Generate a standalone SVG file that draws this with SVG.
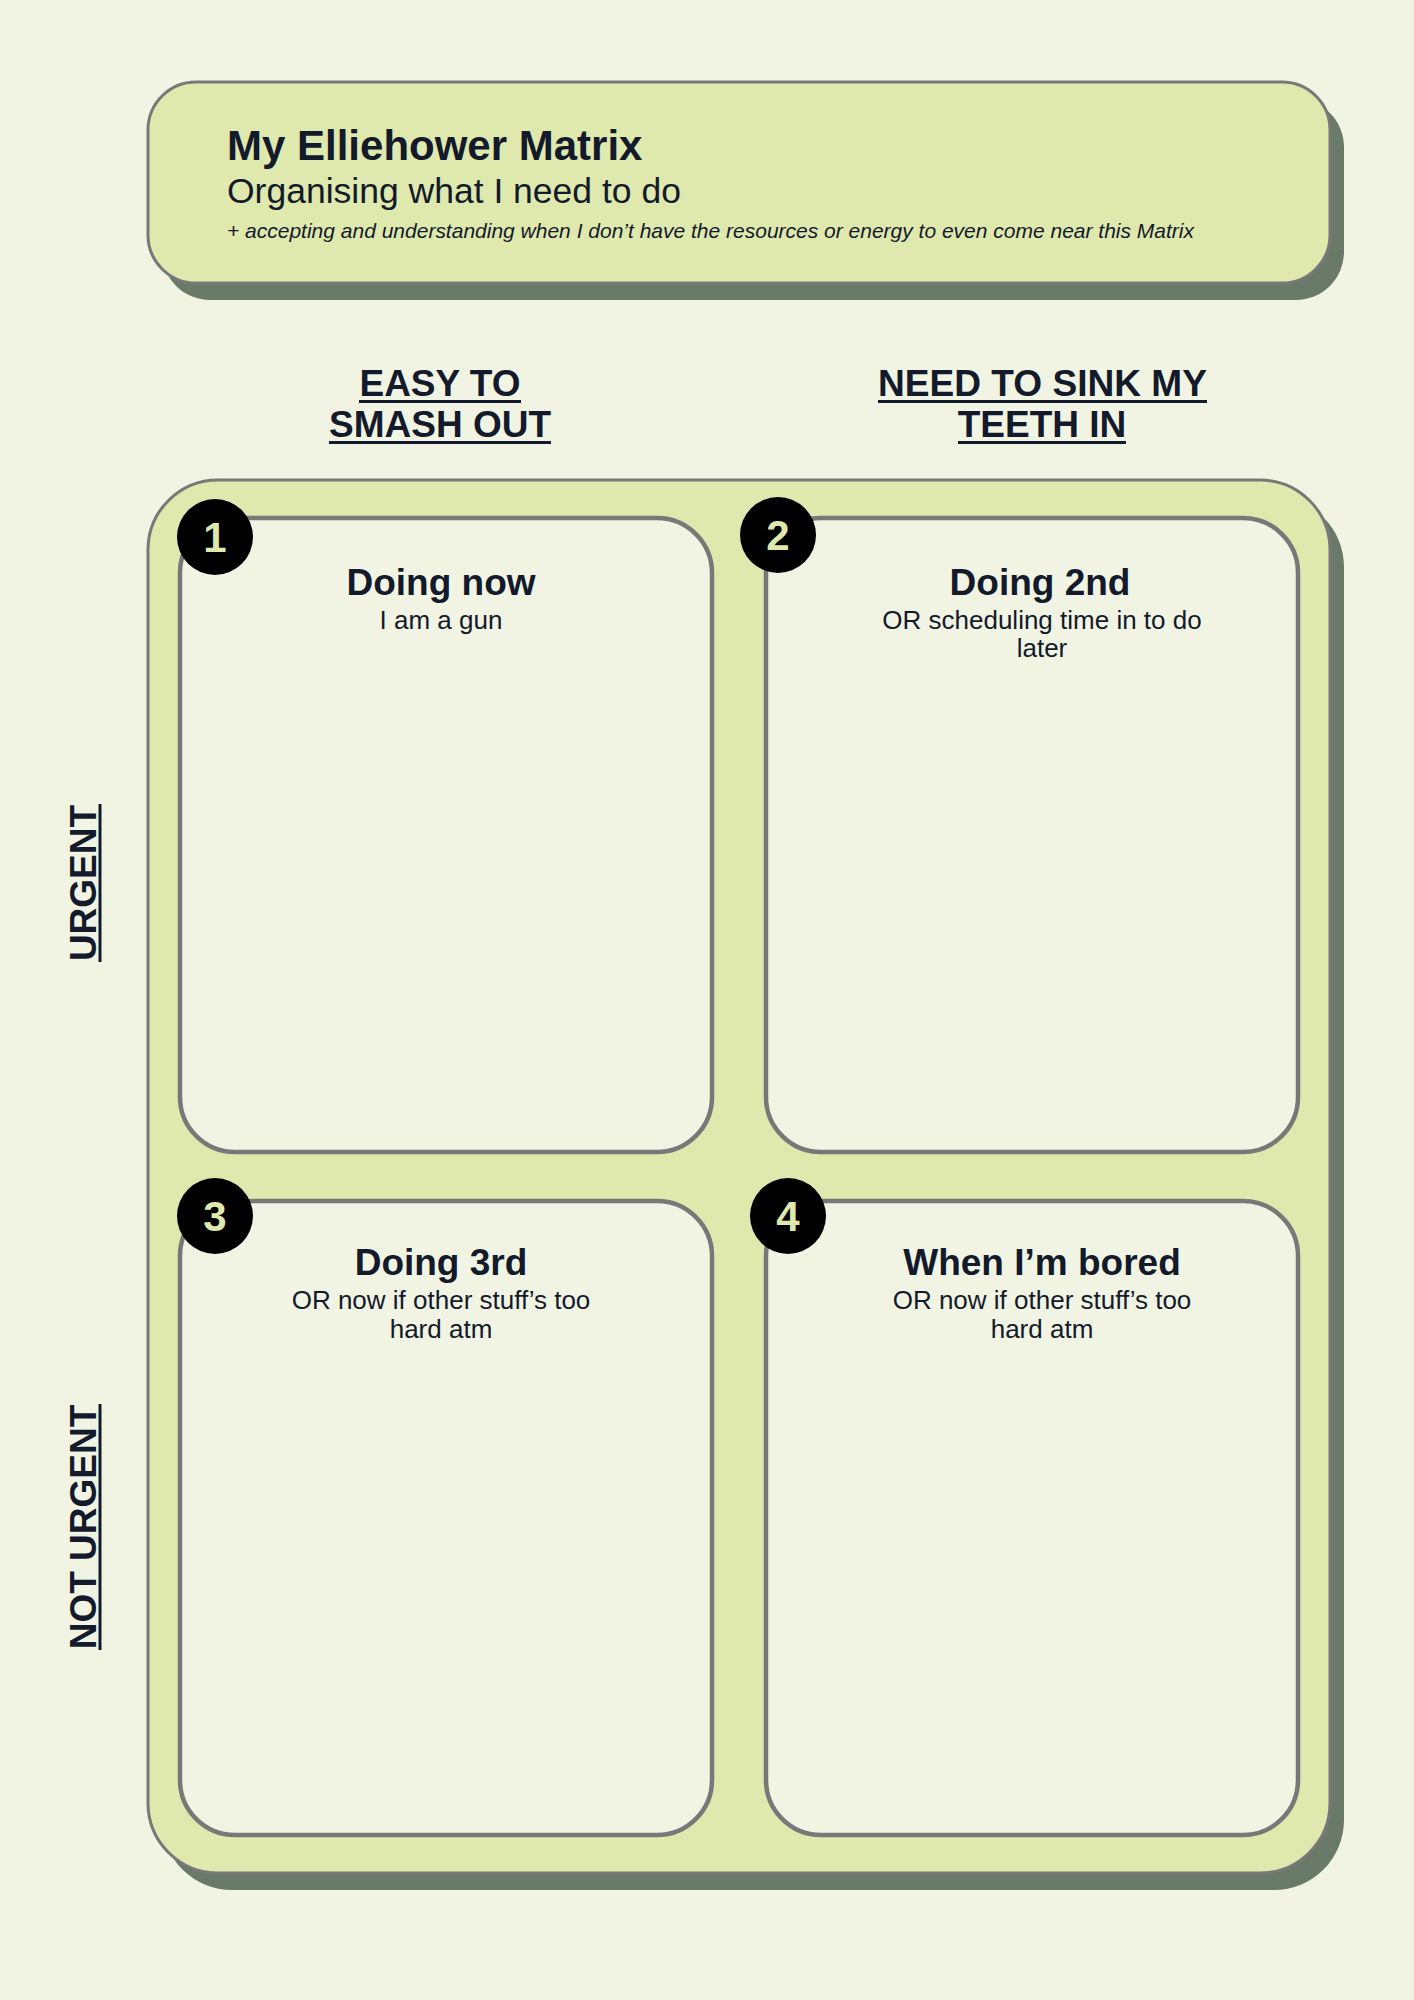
<svg xmlns="http://www.w3.org/2000/svg" width="1414" height="2000" viewBox="0 0 1414 2000">
<style>
.bg{fill:#f1f4e3}
.panel{fill:#dfe8ad;stroke:#787878;stroke-width:3}
.shadow{fill:#697a68}
.box{fill:#f1f4e3;stroke:#787878;stroke-width:4.5}
.badge{fill:#000}
.num{font-family:"Liberation Sans",Arial,sans-serif;font-weight:bold;font-size:42px;fill:#dfe8ad;text-anchor:middle}
.t{font-family:"Liberation Sans",Arial,sans-serif;fill:#131a2b}
.h{font-weight:bold;font-size:37px;text-anchor:middle}
.qt{font-weight:bold;font-size:37px;text-anchor:middle}
.qs{font-size:26px;text-anchor:middle}
.ul{stroke:#131a2b;stroke-width:3}
</style>
<rect class="bg" x="0" y="0" width="1414" height="2000"/>

<g id="header">
<rect class="shadow" x="162" y="99" width="1182" height="201" rx="48"/>
<rect class="panel" x="148" y="82" width="1182" height="201" rx="48"/>
<text class="t" x="227" y="160" font-size="42" font-weight="bold">My Elliehower Matrix</text>
<text class="t" x="227" y="203" font-size="35.5">Organising what I need to do</text>
<text class="t" x="227" y="238" font-size="21" font-style="italic" textLength="967" lengthAdjust="spacing">+ accepting and understanding when I don’t have the resources or energy to even come near this Matrix</text>
</g>

<g id="col-easy">
<text class="t h" x="440" y="396">EASY TO</text>
<line class="ul" x1="359" y1="401.5" x2="521" y2="401.5"/>
<text class="t h" x="440" y="437">SMASH OUT</text>
<line class="ul" x1="329" y1="442.5" x2="551" y2="442.5"/>
</g>

<g id="col-hard">
<text class="t h" x="1042.5" y="396" textLength="329" lengthAdjust="spacingAndGlyphs">NEED TO SINK MY</text>
<line class="ul" x1="878" y1="401.5" x2="1207" y2="401.5"/>
<text class="t h" x="1042" y="437">TEETH IN</text>
<line class="ul" x1="958" y1="442.5" x2="1126" y2="442.5"/>
</g>

<g id="row-urgent" transform="translate(96,883) rotate(-90)">
<text class="t h" x="0" y="0">URGENT</text>
<line class="ul" x1="-79" y1="4" x2="79" y2="4"/>
</g>

<g id="row-not-urgent" transform="translate(96,1527) rotate(-90)">
<text class="t h" x="0" y="0">NOT URGENT</text>
<line class="ul" x1="-123" y1="4" x2="123" y2="4"/>
</g>

<g id="matrix">
<rect class="shadow" x="162" y="497" width="1182" height="1393" rx="70"/>
<rect class="panel" x="148" y="480" width="1182" height="1393" rx="70"/>
</g>

<g id="q1">
<rect class="box" x="180" y="518" width="532" height="634" rx="55"/>
<circle class="badge" cx="215" cy="537" r="38"/>
<text class="num" x="215" y="552">1</text>
<text class="t qt" x="441" y="595">Doing now</text>
<text class="t qs" x="441" y="629">I am a gun</text>
</g>

<g id="q2">
<rect class="box" x="766" y="518" width="532" height="634" rx="55"/>
<circle class="badge" cx="778" cy="535" r="38"/>
<text class="num" x="778" y="550">2</text>
<text class="t qt" x="1040" y="595">Doing 2nd</text>
<text class="t qs" x="1042" y="629">OR scheduling time in to do</text>
<text class="t qs" x="1042" y="657">later</text>
</g>

<g id="q3">
<rect class="box" x="180" y="1201" width="532" height="634" rx="55"/>
<circle class="badge" cx="215" cy="1216" r="38"/>
<text class="num" x="215" y="1231">3</text>
<text class="t qt" x="441" y="1275">Doing 3rd</text>
<text class="t qs" x="441" y="1309">OR now if other stuff’s too</text>
<text class="t qs" x="441" y="1338">hard atm</text>
</g>

<g id="q4">
<rect class="box" x="766" y="1201" width="532" height="634" rx="55"/>
<circle class="badge" cx="788" cy="1216" r="38"/>
<text class="num" x="788" y="1231">4</text>
<text class="t qt" x="1042" y="1275">When I’m bored</text>
<text class="t qs" x="1042" y="1309">OR now if other stuff’s too</text>
<text class="t qs" x="1042" y="1338">hard atm</text>
</g>
</svg>
